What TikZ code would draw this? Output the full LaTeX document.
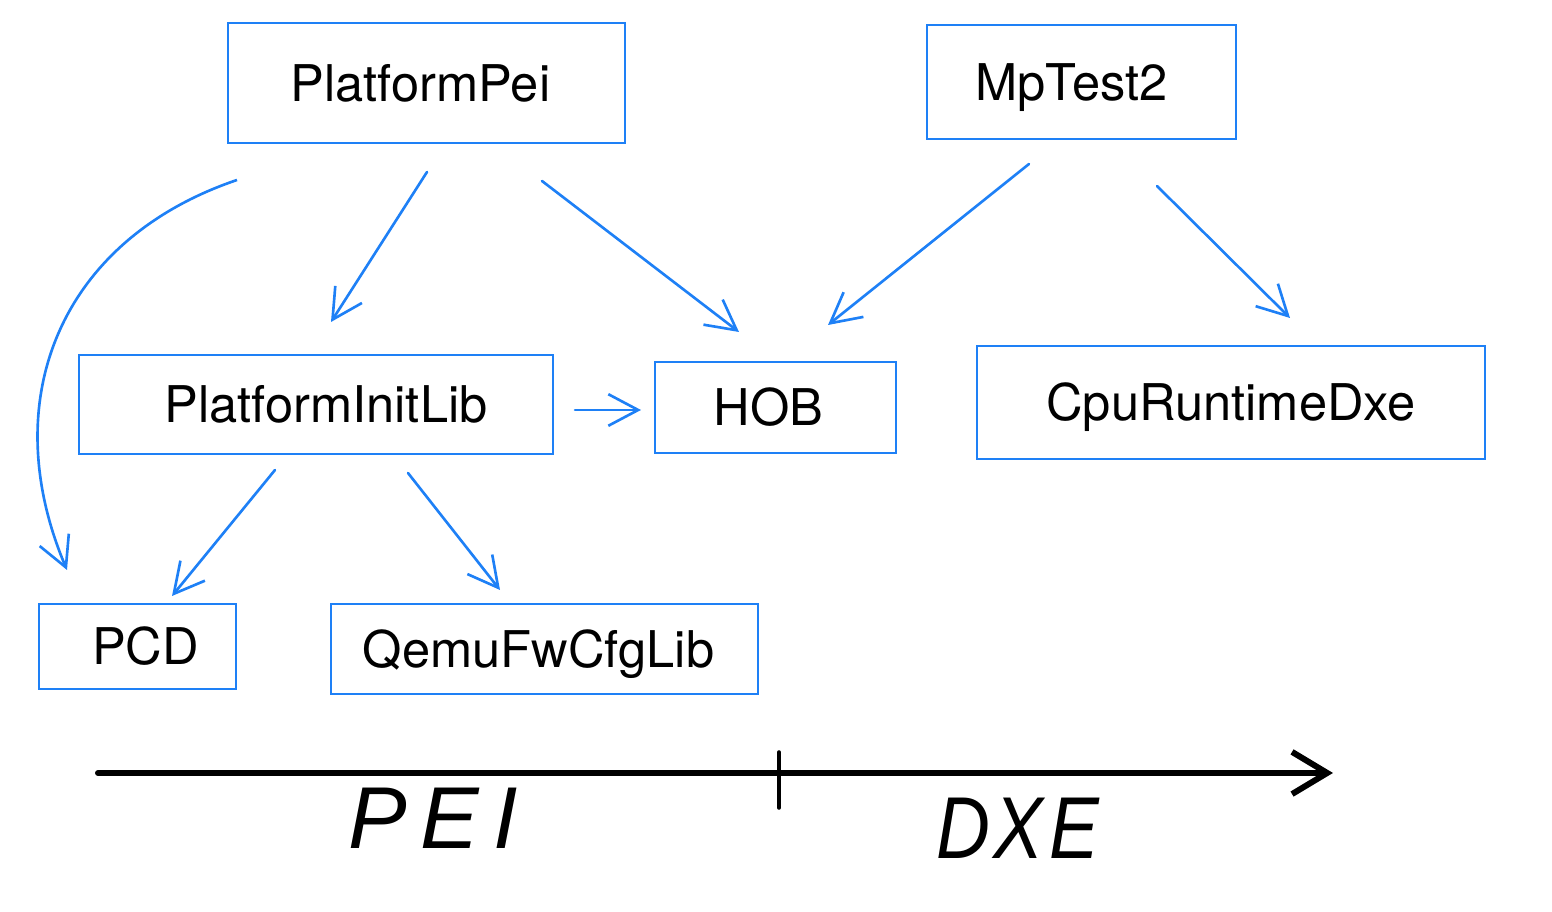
\documentclass[tikz,border=0pt]{standalone}
\usepackage{fontspec}
\setmainfont{TeX Gyre Heros}
\newfontfamily\handfont{Liberation Sans}
\usepackage{tikz}
\usetikzlibrary{arrows.meta}
\usepackage{tkz-euclide}
\definecolor{boxblue}{RGB}{30,128,246}

\begin{document}
\begin{tikzpicture}[
    box/.style={draw=boxblue, line width=0.8pt, inner sep=0pt, text height=10.3pt, text depth=0pt,
                font=\fontsize{14.4}{17}\selectfont},
    dep/.style={color=boxblue, line width=0.75pt, -{Straight Barb[length=8.5pt, width=9pt]}},
    timeline/.style={color=black, line width=1.7pt, -{Straight Barb[length=10pt, width=12pt]}},
    phase/.style={font=\handfont\itshape\fontsize{25}{28}\selectfont}]
                \useasboundingbox (0,0) rectangle (15.52,9.12);
                % modules
                \node[box, minimum width=3.97cm, minimum height=1.20cm] (pei) at (4.265,8.29) {PlatformPei\hspace*{0.12cm}};
                \node[box, minimum width=3.09cm, minimum height=1.14cm] (mptest) at (10.815,8.30) {MpTest2\hspace*{0.2cm}};
                \node[box, minimum width=4.74cm, minimum height=0.99cm] (initlib) at (3.16,5.075) {\hspace*{0.2cm}PlatformInitLib};
                \node[box, minimum width=2.41cm, minimum height=0.91cm] (hob) at (7.755,5.045) {HOB\hspace*{0.14cm}};
                \node[box, minimum width=5.08cm, minimum height=1.13cm] (cpudxe) at (12.31,5.095) {CpuRuntimeDxe};
                \node[box, minimum width=1.97cm, minimum height=0.85cm] (pcd) at (1.375,2.655) {\hspace*{0.16cm}PCD};
                \node[box, minimum width=4.27cm, minimum height=0.90cm] (qemu) at (5.445,2.63) {QemuFwCfgLib\hspace*{0.12cm}};
                % arrow ends
                \tkzDefPoints{2.37/7.32/peiA, 0.67/3.42/pcdA, 0.60/6.72/ctlA, -0.05/5.12/ctlB,
                              4.27/7.40/peiB, 3.31/5.90/initA, 5.42/7.31/peiC, 7.39/5.80/hobA,
                              10.29/7.48/mpA, 8.28/5.87/hobB, 11.57/7.26/mpB, 12.90/5.94/cpuA,
                              5.75/5.02/initB, 6.41/5.02/hobC, 2.75/4.42/initC, 1.72/3.16/pcdB,
                              4.08/4.39/initD, 5.00/3.22/qemuA}
                \draw[dep] (peiA) .. controls (ctlA) and (ctlB) .. (pcdA);
                \tkzDrawSegments[dep](peiB,initA peiC,hobA mpA,hobB mpB,cpuA initB,hobC initC,pcdB initD,qemuA)
                % phases
                \tkzDefPoints{0.98/1.39/tStart, 13.33/1.39/tEnd, 7.79/1.60/tickA, 7.79/1.04/tickB}
                \tkzDrawSegment[timeline](tStart,tEnd)
                \tkzDrawSegment[color=black, line width=1pt](tickA,tickB)
                \node[phase] (peiphase) at (4.33,0.94) {P\hspace{4pt}E\hspace{4pt}I};
                \node[phase, xscale=0.85] (dxephase) at (10.18,0.84) {D\hspace{1pt}X\hspace{2pt}E};
            \end{tikzpicture}
\end{document}
